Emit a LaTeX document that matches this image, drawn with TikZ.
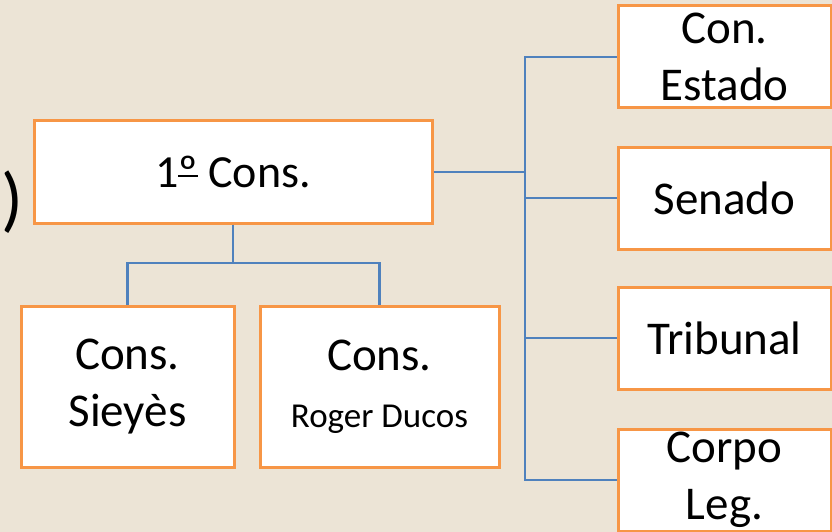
\documentclass[tikz,border=0pt]{standalone}
\usepackage{fontspec}
\setmainfont{Carlito}
\usepackage{xcolor}
\definecolor{bgbeige}{RGB}{236,228,214}
\definecolor{boxorange}{RGB}{247,150,70}
\definecolor{linkblue}{RGB}{79,129,189}
% ordinal with its underline, as Calibri draws it
\newcommand{\ordmasc}{{\setbox0\hbox{º}\rlap{\raisebox{0.22em}{\rule{\wd0}{0.05em}}}\box0}}

\begin{document}
\begin{tikzpicture}[x=1pt,y=-1pt,
  box/.style={draw=boxorange,line width=3pt,fill=white,inner sep=0pt,
    align=center,font=\fontsize{47}{57}\selectfont},
  link/.style={draw=linkblue,line width=2.8pt}]
\fill[bgbeige] (0,0) rectangle (832,532);
\useasboundingbox (0,0) rectangle (832,532);
\clip (0,0) rectangle (832,532);
% left part of the chart
\node[anchor=east,inner sep=0pt,font=\fontsize{72}{80}\selectfont] (paren) at (24,202) {)};
\node[box,minimum width=398pt,minimum height=102pt,font=\fontsize{46}{57}\selectfont]
  (prim) at (233,172) {1\ordmasc{} Cons.};
\node[box,minimum width=213pt,minimum height=161pt] (sieyes) at (127.5,386.5) {Cons.\\Sieyès};
\node[box,minimum width=239pt,minimum height=161pt] (ducos) at (379.5,386.5)
  {Cons.\\{\fontsize{35}{40}\selectfont Roger Ducos}};
% right column
\node[box,minimum width=213pt,minimum height=102pt] (estado) at (724.5,57) {Con.\\Estado};
\node[box,minimum width=213pt,minimum height=102pt] (senado) at (724.5,198) {Senado};
\node[box,minimum width=213pt,minimum height=102pt] (tribunal) at (724.5,338) {Tribunal};
\node[box,minimum width=213pt,minimum height=102pt] (corpo) at (724.5,480) {Corpo\\Leg.};
\coordinate (jb) at (233,263);
\coordinate (jr) at (525,172);
\coordinate (ttop) at (525,57);
\coordinate (tbot) at (525,480);
\draw[link] (prim.south) -- (jb);
\draw[link] (sieyes.north) |- (jb) -| (ducos.north);
\draw[link] (prim.east) -- (jr);
\draw[link] (estado.west) -- (ttop) -- (tbot) -- (corpo.west);
\draw[link] (senado.west) -- (senado.west -| ttop);
\draw[link] (tribunal.west) -- (tribunal.west -| ttop);
\end{tikzpicture}
\end{document}
